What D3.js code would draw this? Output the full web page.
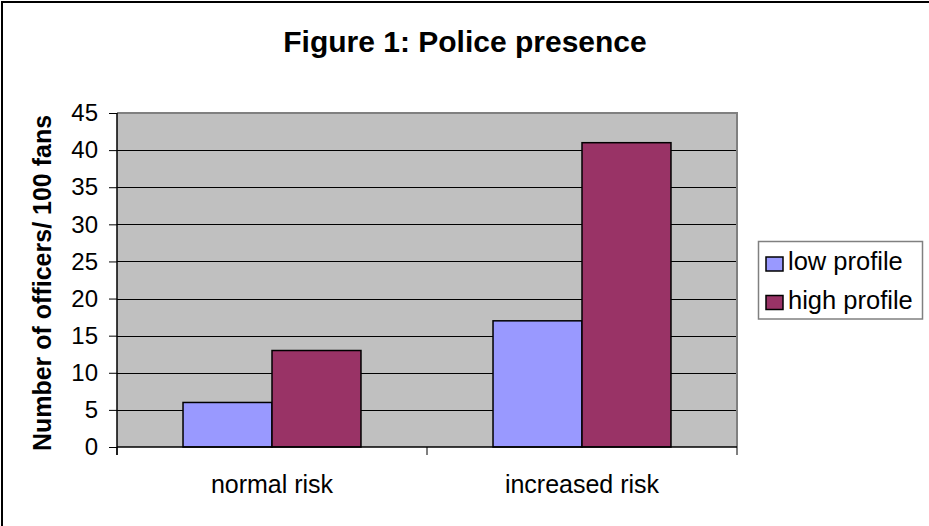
<!DOCTYPE html>
<html>
<head>
<meta charset="utf-8">
<script src="https://cdn.jsdelivr.net/npm/d3@7/dist/d3.min.js"></script>
<style>
  html, body { margin: 0; padding: 0; background: #fff; }
  svg { display: block; }
  text { font-family: "Liberation Sans", Arial, sans-serif; fill: #000; }
</style>
</head>
<body>
<svg id="chart" width="929" height="526"></svg>
<script>
// Chart data
const categories = ["normal risk", "increased risk"];
const seriesNames = ["low profile", "high profile"];
const lowProfile = [6, 17];
const highProfile = [13, 41];
const seriesValues = [lowProfile, highProfile];
const yTicks = [0, 5, 10, 15, 20, 25, 30, 35, 40, 45];
const seriesColors = ["#9999FF", "#993366"];
const chartTitle = "Figure 1: Police presence";
const yTitle = "Number of officers/ 100 fans";

const svg = d3.select("#chart");
const W = 929, H = 526;

// Outer frame (left and top edges)
svg.append("path")
  .attr("d", `M2,${H} L2,2 L${W},2`)
  .attr("fill", "none").attr("stroke", "#000").attr("stroke-width", 2);

// Plot area
const plot = { left: 117, right: 737, top: 113, bottom: 447 };

const x = d3.scaleBand().domain(categories).range([plot.left, plot.right]).padding(0);
const xSub = d3.scaleBand().domain(seriesNames).range([0, x.bandwidth()])
  .paddingInner(0).paddingOuter(0.742);
const y = d3.scaleLinear().domain([0, 45]).range([plot.bottom, plot.top]);

// Background
svg.append("rect")
  .attr("x", plot.left).attr("y", plot.top)
  .attr("width", plot.right - plot.left).attr("height", plot.bottom - plot.top)
  .attr("fill", "#C0C0C0");

// Gridlines
svg.append("g").selectAll("line")
  .data(yTicks.filter(v => v > 0 && v < 45))
  .join("line")
  .attr("x1", plot.left).attr("x2", plot.right)
  .attr("y1", d => Math.round(y(d)) + 0.5).attr("y2", d => Math.round(y(d)) + 0.5)
  .attr("stroke", "#000").attr("stroke-width", 1);

// Top and right border of plot area
svg.append("path")
  .attr("d", `M${plot.left},${plot.top} L${plot.right},${plot.top} L${plot.right},${plot.bottom}`)
  .attr("fill", "none").attr("stroke", "#808080").attr("stroke-width", 2);

// Bars
const barData = [];
categories.forEach((c, ci) => {
  seriesNames.forEach((s, si) => {
    barData.push({ cat: c, series: s, value: seriesValues[si][ci], color: seriesColors[si] });
  });
});
svg.append("g").selectAll("rect")
  .data(barData)
  .join("rect")
  .attr("x", d => x(d.cat) + xSub(d.series))
  .attr("y", d => y(d.value))
  .attr("width", xSub.bandwidth())
  .attr("height", d => y(0) - y(d.value))
  .attr("fill", d => d.color)
  .attr("stroke", "#000").attr("stroke-width", 1.5);

// Y axis
const yAxis = d3.axisLeft(y).tickValues(yTicks).tickSize(8).tickPadding(11)
  .tickSizeOuter(0);
const gy = svg.append("g").attr("transform", `translate(${plot.left},0)`).call(yAxis);
gy.select(".domain").remove();
gy.append("line").attr("x1", 0).attr("x2", 0).attr("y1", plot.top).attr("y2", plot.bottom + 8)
  .attr("stroke", "#000").attr("stroke-width", 1.5);
gy.selectAll(".tick line").attr("stroke", "#000");
gy.selectAll(".tick text")
  .attr("font-family", "Liberation Sans, Arial, sans-serif")
  .attr("font-size", 24).attr("fill", "#000");

// X axis
const gx = svg.append("g").attr("transform", `translate(0,${plot.bottom})`);
gx.append("line").attr("x1", plot.left).attr("x2", plot.right).attr("y1", 0).attr("y2", 0)
  .attr("stroke", "#000").attr("stroke-width", 1.5);
const bounds = [plot.left, ...categories.map(c => x(c) + x.bandwidth())];
gx.selectAll("line.sep").data(bounds).join("line").attr("class", "sep")
  .attr("x1", d => d).attr("x2", d => d).attr("y1", 0).attr("y2", 8)
  .attr("stroke", "#000").attr("stroke-width", 1);
gx.selectAll("text").data(categories).join("text")
  .attr("x", d => x(d) + x.bandwidth() / 2).attr("y", 46)
  .attr("text-anchor", "middle").attr("font-size", 25)
  .text(d => d);

// Title
svg.append("text")
  .attr("x", 465).attr("y", 52)
  .attr("text-anchor", "middle").attr("font-size", 30).attr("font-weight", "bold")
  .text(chartTitle);

// Y axis title
svg.append("text")
  .attr("transform", `translate(51,${(plot.top + plot.bottom) / 2 + 3}) rotate(-90)`)
  .attr("text-anchor", "middle").attr("font-size", 25).attr("font-weight", "bold")
  .text(yTitle);

// Legend
const lg = svg.append("g").attr("transform", "translate(758.5,241.5)");
lg.append("rect").attr("width", 164).attr("height", 77.5)
  .attr("fill", "#fff").attr("stroke", "#808080").attr("stroke-width", 1.5);
seriesNames.forEach((s, i) => {
  const row = lg.append("g").attr("transform", `translate(0,${15 + i * 38.5})`);
  row.append("rect").attr("x", 7.5).attr("y", 0.5).attr("width", 17).attr("height", 14)
    .attr("fill", seriesColors[i]).attr("stroke", "#000").attr("stroke-width", 1.5);
  row.append("text").attr("x", 29.5).attr("y", 13.5).attr("font-size", 25.5).text(s);
});
</script>
</body>
</html>
